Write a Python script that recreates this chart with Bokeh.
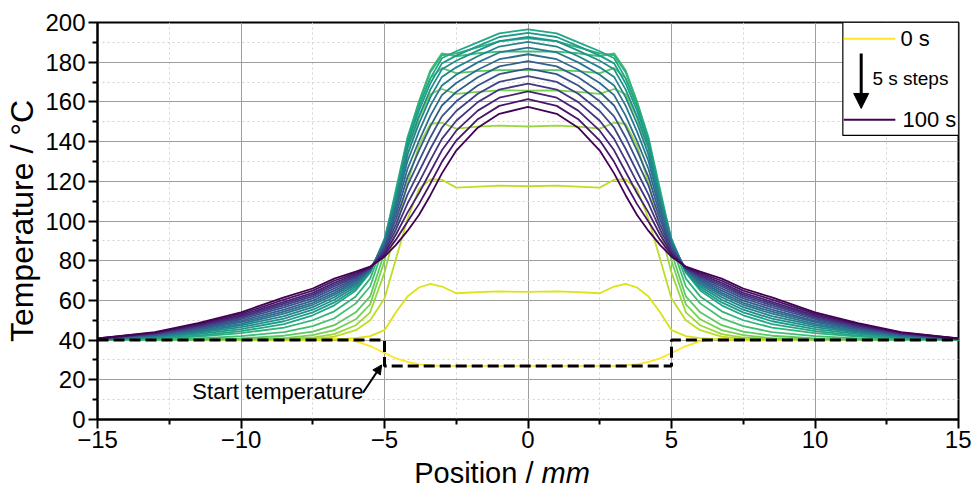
from bokeh.plotting import figure
from bokeh.models import FixedTicker, Label, Arrow, NormalHead, BoxAnnotation, Range1d
from bokeh.layouts import column
from bokeh.embed import file_html
from bokeh.resources import INLINE
from bokeh.palettes import Viridis256

FONT = "Liberation Sans"

# ---------------- data ----------------
position = [-15, -13, -11.5, -10, -8.5, -7.5, -6.75, -6, -5.5, -5, -4.6, -4.2, -3.8, -3.4, -3, -2.5, -1.75, -1,
            0, 1, 1.75, 2.5, 3, 3.4, 3.8, 4.2, 4.6, 5, 5.5, 6, 6.75, 7.5, 8.5, 10, 11.5, 13, 15]

t000 = [40, 40, 40, 40, 40, 40.3, 40.8, 39.5, 37, 33.5, 30.8, 29, 27.8, 27.2, 27, 27, 27, 27,
        27, 27, 27, 27, 27, 27.2, 27.8, 29, 30.8, 33.5, 37, 39.5, 40.8, 40.3, 40, 40, 40, 40, 40]
t005 = [40, 40, 40, 40, 40, 40, 40.3, 41, 42, 45, 54, 62, 66.5, 68.3, 67, 63.6, 64.2, 64.5,
        64.3, 64.5, 64.2, 63.6, 67, 68.3, 66.5, 62, 54, 45, 42, 41, 40.3, 40, 40, 40, 40, 40, 40]
t010 = [40, 40, 40, 40, 40.1, 40.6, 41.8, 45, 50, 61, 81, 101, 116, 121, 120.8, 116.8, 117.3, 117.8,
        117.5, 117.8, 117.3, 116.8, 120.8, 121, 116, 101, 81, 61, 50, 45, 41.8, 40.6, 40.1, 40, 40, 40, 40]
t015 = [40, 40, 40, 40.1, 40.5, 41.3, 43, 47.5, 54, 74, 96, 119, 138, 149, 149.5, 146.5, 147.5, 148,
        147.6, 148, 147.5, 146.5, 149.5, 149, 138, 119, 96, 74, 54, 47.5, 43, 41.3, 40.5, 40.1, 40, 40, 40]
t020 = [40, 40, 40.1, 40.4, 41, 42.5, 45, 50.5, 58, 80, 106, 133, 152, 164, 166.5, 164, 165, 165.8,
        165.7, 165.8, 165, 164, 166.5, 164, 152, 133, 106, 80, 58, 50.5, 45, 42.5, 41, 40.4, 40.1, 40, 40]
t025 = [40, 40.1, 40.3, 40.9, 42.2, 44.3, 47.5, 54, 62, 84, 110, 138, 158, 172, 177, 174.5, 175.5, 176,
        176, 176, 175.5, 174.5, 177, 172, 158, 138, 110, 84, 62, 54, 47.5, 44.3, 42.2, 40.9, 40.3, 40.1, 40]
t030 = [40.1, 40.3, 40.9, 42, 44, 47, 51, 58.5, 67, 88, 114, 141, 160, 176, 184.5, 183, 184.5, 185.3,
        185.5, 185.3, 184.5, 183, 184.5, 176, 160, 141, 114, 88, 67, 58.5, 51, 47, 44, 42, 40.9, 40.3, 40.1]
t035 = [40.2, 40.8, 41.8, 43.5, 46.3, 50, 54.5, 62, 71, 90, 116, 142, 160, 175, 183.5, 184.5, 187.5, 190.5,
        192, 190.5, 187.5, 184.5, 183.5, 175, 160, 142, 116, 90, 71, 62, 54.5, 50, 46.3, 43.5, 41.8, 40.8, 40.2]
t040 = [40.3, 41, 42.3, 44.5, 48, 52.5, 57.5, 65, 74, 91, 114, 141, 158, 172, 182, 185.5, 190, 194.5,
        196.5, 194.5, 190, 185.5, 182, 172, 158, 141, 114, 91, 74, 65, 57.5, 52.5, 48, 44.5, 42.3, 41, 40.3]
t045 = [40.4, 41.3, 43, 45.5, 49.5, 54, 59, 66, 74.3, 90.6, 112.9, 139, 155.6, 169.4, 179.4, 183.3, 188.1, 192.7,
        194.8, 192.7, 188.1, 183.3, 179.4, 169.4, 155.6, 139, 112.9, 90.6, 74.3, 66, 59, 54, 49.5, 45.5, 43, 41.3, 40.4]
t050 = [40.4, 41.6, 43.6, 46.5, 50.8, 55.3, 60.3, 67, 74.6, 90.1, 111.5, 136.5, 152.7, 166.3, 176.4, 180.7, 185.8, 190.6,
        192.7, 190.6, 185.8, 180.7, 176.4, 166.3, 152.7, 136.5, 111.5, 90.1, 74.6, 67, 60.3, 55.3, 50.8, 46.5, 43.6, 41.6, 40.4]
t055 = [40.5, 41.9, 44.2, 47.4, 52.1, 56.6, 61.6, 67.9, 74.9, 89.5, 109.8, 133.5, 149.1, 162.4, 172.6, 177.4, 183, 187.9,
        190.2, 187.9, 183, 177.4, 172.6, 162.4, 149.1, 133.5, 109.8, 89.5, 74.9, 67.9, 61.6, 56.6, 52.1, 47.4, 44.2, 41.9, 40.5]
t060 = [40.5, 42.2, 44.7, 48.2, 53.3, 57.8, 62.8, 68.7, 75.2, 88.9, 107.9, 130.1, 145, 158.1, 168.3, 173.7, 179.9, 184.9,
        187.3, 184.9, 179.9, 173.7, 168.3, 158.1, 145, 130.1, 107.9, 88.9, 75.2, 68.7, 62.8, 57.8, 53.3, 48.2, 44.7, 42.2, 40.5]
t065 = [40.5, 42.4, 45.2, 49, 54.3, 58.8, 63.8, 69.5, 75.4, 88.1, 105.7, 126.2, 140.3, 153.1, 163.4, 169.5, 176.2, 181.5,
        184, 181.5, 176.2, 169.5, 163.4, 153.1, 140.3, 126.2, 105.7, 88.1, 75.4, 69.5, 63.8, 58.8, 54.3, 49, 45.2, 42.4, 40.5]
t070 = [40.6, 42.7, 45.7, 49.7, 55.4, 59.9, 64.9, 70.2, 75.7, 87.3, 103.3, 122.1, 135.5, 147.8, 158.2, 165, 172.4, 177.9,
        180.5, 177.9, 172.4, 165, 158.2, 147.8, 135.5, 122.1, 103.3, 87.3, 75.7, 70.2, 64.9, 59.9, 55.4, 49.7, 45.7, 42.7, 40.6]
t075 = [40.6, 42.9, 46.2, 50.5, 56.5, 61, 66, 71, 75.9, 86.5, 100.9, 117.8, 130.2, 142.2, 152.7, 160.3, 168.3, 174,
        176.8, 174, 168.3, 160.3, 152.7, 142.2, 130.2, 117.8, 100.9, 86.5, 75.9, 71, 66, 61, 56.5, 50.5, 46.2, 42.9, 40.6]
t080 = [40.7, 43.1, 46.6, 51.2, 57.5, 62, 67, 71.7, 76.1, 85.6, 98.3, 113.3, 124.8, 136.4, 147, 155.4, 164.1, 170.1,
        173, 170.1, 164.1, 155.4, 147, 136.4, 124.8, 113.3, 98.3, 85.6, 76.1, 71.7, 67, 62, 57.5, 51.2, 46.6, 43.1, 40.7]
t085 = [40.7, 43.3, 47.1, 51.8, 58.4, 62.9, 67.9, 72.3, 76.3, 84.7, 95.8, 108.8, 119.5, 130.7, 141.4, 150.5, 159.9, 166.2,
        169.2, 166.2, 159.9, 150.5, 141.4, 130.7, 119.5, 108.8, 95.8, 84.7, 76.3, 72.3, 67.9, 62.9, 58.4, 51.8, 47.1, 43.3, 40.7]
t090 = [40.7, 43.5, 47.5, 52.5, 59.3, 63.8, 68.8, 73, 76.5, 83.8, 93.2, 104.2, 114, 124.8, 135.6, 145.5, 155.6, 162.1,
        165.3, 162.1, 155.6, 145.5, 135.6, 124.8, 114, 104.2, 93.2, 83.8, 76.5, 73, 68.8, 63.8, 59.3, 52.5, 47.5, 43.5, 40.7]
t095 = [40.8, 43.8, 48, 53.2, 60.4, 64.9, 69.9, 73.7, 76.8, 82.9, 90.6, 99.6, 108.5, 118.9, 129.8, 140.5, 151.3, 158,
        161.4, 158, 151.3, 140.5, 129.8, 118.9, 108.5, 99.6, 90.6, 82.9, 76.8, 73.7, 69.9, 64.9, 60.4, 53.2, 48, 43.8, 40.8]
t100 = [40.8, 44, 48.5, 54, 61.5, 66, 71, 74.5, 77, 82, 88, 95, 103, 113, 124, 135.5, 147, 154,
        157.5, 154, 147, 135.5, 124, 113, 103, 95, 88, 82, 77, 74.5, 71, 66, 61.5, 54, 48.5, 44, 40.8]

times = [0, 5, 10, 15, 20, 25, 30, 35, 40, 45, 50, 55, 60, 65, 70, 75, 80, 85, 90, 95, 100]
curves = [t000, t005, t010, t015, t020, t025, t030, t035, t040, t045, t050,
          t055, t060, t065, t070, t075, t080, t085, t090, t095, t100]

start_x = [-15, -5, -5, 5, 5, 15]
start_y = [40, 40, 27, 27, 40, 40]

x_ticks = [-15, -10, -5, 0, 5, 10, 15]
x_minor = [-12.5, -7.5, -2.5, 2.5, 7.5, 12.5]
y_ticks = [0, 20, 40, 60, 80, 100, 120, 140, 160, 180, 200]
y_minor = [10, 30, 50, 70, 90, 110, 130, 150, 170, 190]
x_tick_labels = ["\u221215", "\u221210", "\u22125", "0", "5", "10", "15"]

# ---------------- main figure ----------------
p = figure(width=971, height=457,
           x_range=Range1d(-15, 15), y_range=Range1d(0, 200),
           output_backend="svg", toolbar_location=None,
           min_border_left=97, min_border_right=13, min_border_top=22, min_border_bottom=38,
           background_fill_color="white", border_fill_color="white")

p.outline_line_color = "black"
p.outline_line_width = 2
p.outline_line_alpha = 1

p.xaxis.ticker = FixedTicker(ticks=x_ticks, minor_ticks=x_minor)
p.yaxis.ticker = FixedTicker(ticks=y_ticks, minor_ticks=y_minor)
p.xaxis.major_label_overrides = {t: s for t, s in zip(x_ticks, x_tick_labels)}

for ax in (p.xaxis, p.yaxis):
    ax.axis_line_width = 2
    ax.axis_line_color = "black"
    ax.major_tick_line_width = 2
    ax.minor_tick_line_width = 2
    ax.major_tick_in = 0
    ax.major_tick_out = 9
    ax.minor_tick_in = 0
    ax.minor_tick_out = 5
    ax.major_label_text_font = FONT
    ax.major_label_text_font_size = "24px"
    ax.major_label_text_color = "black"
    ax.axis_label_text_font = FONT
    ax.axis_label_text_font_size = "32px"
    ax.axis_label_text_font_style = "normal"
    ax.axis_label_text_color = "black"

p.xaxis.major_label_standoff = 2
p.yaxis.major_label_standoff = 3
p.yaxis.axis_label = "Temperature / \u00b0C"
p.yaxis.axis_label_standoff = 2
p.xaxis.axis_label = None

for g in (p.xgrid, p.ygrid):
    g.grid_line_color = "#9e9e9e"
    g.grid_line_width = 1
    g.minor_grid_line_color = "#d2d2d2"
    g.minor_grid_line_dash = "2 3"
    g.minor_grid_line_width = 1

# ---------------- curves ----------------
n = len(curves)
for i, (t, yv) in enumerate(zip(times, curves)):
    col = Viridis256[int(round((1 - i / (n - 1)) * 255))]
    p.line(position, yv, line_color=col, line_width=1.8)

p.line(start_x, start_y, line_color="black", line_width=3, line_dash="11 5")

# ---------------- annotation ----------------
p.add_layout(Label(x=-5.73, y=14.0, text="Start temperature", text_align="right",
                   text_baseline="middle", text_font=FONT, text_font_size="22px",
                   text_color="black"))
p.add_layout(Arrow(x_start=-5.75, y_start=13.5, x_end=-5.1, y_end=27.5,
                   line_color="black", line_width=2,
                   end=NormalHead(size=9, fill_color="black", line_color="black")))

# ---------------- custom legend ----------------
p.add_layout(BoxAnnotation(left=10.97, right=15, bottom=143.1, top=200,
                           fill_color="white", fill_alpha=1,
                           line_color="black", line_width=1.2, line_alpha=1))
p.add_layout(Arrow(x_start=11.0, y_start=191.8, x_end=12.8, y_end=191.8, end=None,
                   line_color=Viridis256[255], line_width=2))
p.add_layout(Arrow(x_start=11.0, y_start=151.0, x_end=12.8, y_end=151.0, end=None,
                   line_color=Viridis256[0], line_width=2))
p.add_layout(Arrow(x_start=11.61, y_start=184.4, x_end=11.61, y_end=156.7,
                   line_color="black", line_width=3,
                   end=NormalHead(size=15, fill_color="black", line_color="black")))
p.add_layout(Label(x=12.98, y=191.8, text="0 s", text_baseline="middle",
                   text_font=FONT, text_font_size="22px", text_color="black"))
p.add_layout(Label(x=12.0, y=171.8, text="5 s steps", text_baseline="middle",
                   text_font=FONT, text_font_size="19px", text_color="black"))
p.add_layout(Label(x=13.05, y=151.0, text="100 s", text_baseline="middle",
                   text_font=FONT, text_font_size="22px", text_color="black"))

# ---------------- x axis title strip (mixed upright / italic) ----------------
p2 = figure(width=971, height=33, x_axis_type=None, y_axis_type=None,
            output_backend="svg", toolbar_location=None,
            min_border_left=97, min_border_right=13, min_border_top=0, min_border_bottom=0,
            outline_line_color=None,
            background_fill_color="white", border_fill_color="white")
p2.grid.visible = False
p2.add_layout(Label(x=444, y=18, x_units="screen", y_units="screen", text="Position / ",
                    text_align="right", text_baseline="alphabetic", text_font=FONT,
                    text_font_size="29px", text_color="black"))
p2.add_layout(Label(x=444, y=18, x_units="screen", y_units="screen", text="mm",
                    text_align="left", text_baseline="alphabetic", text_font=FONT,
                    text_font_size="29px", text_font_style="italic", text_color="black"))

open("out.html", "w").write(file_html(column(p, p2, spacing=0), INLINE))
